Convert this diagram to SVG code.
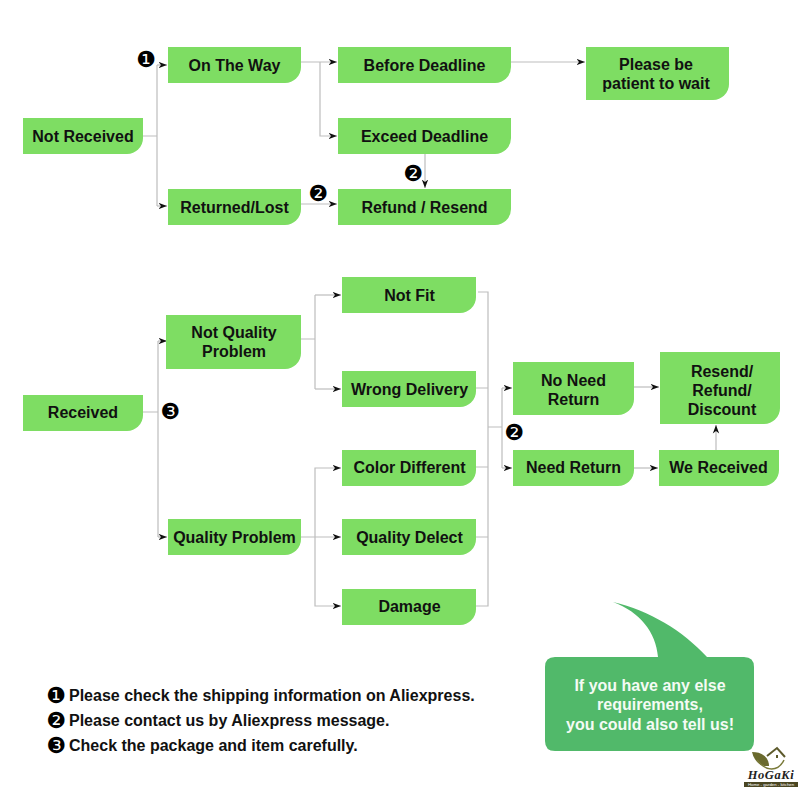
<svg xmlns="http://www.w3.org/2000/svg" width="800" height="800" viewBox="0 0 800 800">
<style>
.b{fill:#7edd63}
.t{font:bold 16px "Liberation Sans",Arial,sans-serif;fill:#111;text-anchor:middle}
.w{font:bold 16px "Liberation Sans",Arial,sans-serif;fill:#f4fbf4;text-anchor:middle}
.n{font:bold 16px "Liberation Sans",Arial,sans-serif;fill:#111}
.d{font:22px "DejaVu Sans",sans-serif;fill:#000;text-anchor:middle}
.c{fill:none;stroke:#bdbdbd;stroke-width:1.2}
.a{marker-end:url(#m)}
</style>
<defs>
<marker id="m" markerUnits="userSpaceOnUse" markerWidth="9" markerHeight="8" refX="8.5" refY="4" orient="auto"><path d="M0 .8L8.5 4L0 7.200L2.500 4Z" fill="#111"/></marker>
</defs>
<rect width="800" height="800" fill="#fff"/>
<g id="connectors">
<path class="c" d="M143 136H157M157 65V206"/>
<path class="c a" d="M157 65H167"/>
<path class="c a" d="M157 206H167"/>
<path class="c a" d="M301 62H337"/>
<path class="c a" d="M320 62V136H337"/>
<path class="c a" d="M511 62H585"/>
<path class="c a" d="M425 154V188"/>
<path class="c a" d="M301 204H337"/>
<path class="c" d="M143 412H158M158 341V537"/>
<path class="c a" d="M158 341H167"/>
<path class="c a" d="M158 537H167"/>
<path class="c" d="M301 339H315M315 295V389"/>
<path class="c a" d="M315 295H341"/>
<path class="c a" d="M315 389H341"/>
<path class="c a" d="M301 537H341"/>
<path class="c a" d="M315 537V468H341"/>
<path class="c a" d="M315 537V606H341"/>
<path class="c" d="M478 292H488V606H476M476 388H488M476 467H488M476 537H488M488 427H502M502 388V468"/>
<path class="c a" d="M502 388H512"/>
<path class="c a" d="M502 468H512"/>
<path class="c a" d="M634 387H659"/>
<path class="c a" d="M634 468H658"/>
<path class="c a" d="M716 450V425"/>
</g>
<g id="not-received"><path class="b" d="M23 118H143V138A16 16 0 0 1 127 154H23Z"/><text class="t" x="83" y="142">Not Received</text></g>
<g id="on-the-way"><path class="b" d="M168 47H301V67A16 16 0 0 1 285 83H168Z"/><text class="t" x="234.500" y="71">On The Way</text></g>
<g id="before-deadline"><path class="b" d="M338 47H511V67A16 16 0 0 1 495 83H338Z"/><text class="t" x="424.500" y="71">Before Deadline</text></g>
<g id="please-wait"><path class="b" d="M586 47H729V84A16 16 0 0 1 713 100H586Z"/><text class="t" x="656" y="70">Please be</text><text class="t" x="656" y="89">patient to wait</text></g>
<g id="exceed-deadline"><path class="b" d="M338 118H511V138A16 16 0 0 1 495 154H338Z"/><text class="t" x="424.500" y="142">Exceed Deadline</text></g>
<g id="returned-lost"><path class="b" d="M168 189H301V209A16 16 0 0 1 285 225H168Z"/><text class="t" x="234.500" y="213">Returned/Lost</text></g>
<g id="refund-resend"><path class="b" d="M338 189H511V209A16 16 0 0 1 495 225H338Z"/><text class="t" x="424.500" y="213">Refund / Resend</text></g>
<g id="received"><path class="b" d="M23 395H143V415A16 16 0 0 1 127 431H23Z"/><text class="t" x="83" y="418">Received</text></g>
<g id="not-quality"><path class="b" d="M166 315H301V353A16 16 0 0 1 285 369H166Z"/><text class="t" x="234" y="338">Not Quality</text><text class="t" x="234" y="357">Problem</text></g>
<g id="quality-problem"><path class="b" d="M168 519H301V539A16 16 0 0 1 285 555H168Z"/><text class="t" x="234.500" y="543">Quality Problem</text></g>
<g id="not-fit"><path class="b" d="M342 277H476V297A16 16 0 0 1 460 313H342Z"/><text class="t" x="409.500" y="301">Not Fit</text></g>
<g id="wrong-delivery"><path class="b" d="M342 371H476V391A16 16 0 0 1 460 407H342Z"/><text class="t" x="409.500" y="395">Wrong Delivery</text></g>
<g id="color-different"><path class="b" d="M342 450H476V470A16 16 0 0 1 460 486H342Z"/><text class="t" x="409.500" y="473">Color Different</text></g>
<g id="quality-delect"><path class="b" d="M342 519H476V539A16 16 0 0 1 460 555H342Z"/><text class="t" x="409.500" y="543">Quality Delect</text></g>
<g id="damage"><path class="b" d="M342 589H476V609A16 16 0 0 1 460 625H342Z"/><text class="t" x="409.500" y="612">Damage</text></g>
<g id="no-need-return"><path class="b" d="M513 362H634V399A16 16 0 0 1 618 415H513Z"/><text class="t" x="573.500" y="386">No Need</text><text class="t" x="573.500" y="405">Return</text></g>
<g id="need-return"><path class="b" d="M513 450H634V470A16 16 0 0 1 618 486H513Z"/><text class="t" x="573.500" y="473">Need Return</text></g>
<g id="resend-refund"><path class="b" d="M660 352H780V408A16 16 0 0 1 764 424H660Z"/><text class="t" x="722" y="377">Resend/</text><text class="t" x="722" y="396">Refund/</text><text class="t" x="722" y="415">Discount</text></g>
<g id="we-received"><path class="b" d="M659 450H779V470A16 16 0 0 1 763 486H659Z"/><text class="t" x="718.500" y="473">We Received</text></g>
<g id="badges">
<text class="d" x="146" y="67">❶</text>
<text class="d" x="318" y="201">❷</text>
<text class="d" x="413" y="181">❷</text>
<text class="d" x="170" y="419">❸</text>
<text class="d" x="514" y="440">❷</text>
</g>
<g id="notes">
<text class="d" x="56" y="703">❶</text><text class="n" x="69" y="701">Please check the shipping information on Aliexpress.</text>
<text class="d" x="56" y="728">❷</text><text class="n" x="69" y="726">Please contact us by Aliexpress message.</text>
<text class="d" x="56" y="753">❸</text><text class="n" x="69" y="751">Check the package and item carefully.</text>
</g>
<g id="bubble">
<path d="M555 657H658C656 632 640 612 613 602C650 611 682 630 707 657H744Q754 657 754 667V741Q754 751 744 751H555Q545 751 545 741V667Q545 657 555 657Z" fill="#51b96a"/>
<text class="w" x="650" y="691">If you have any else</text>
<text class="w" x="650" y="710">requirements,</text>
<text class="w" x="650" y="730">you could also tell us!</text>
</g>
<g id="logo">
<path d="M752 752C762 752 769 757 769 766C760 767 754 761 752 752Z" fill="#6a6a2e"/>
<path d="M767 756L777 748L785 757" fill="none" stroke="#5d5a2c" stroke-width="2"/>
<path d="M757 760C766 772 778 772 784 760" fill="none" stroke="#7a7a3a" stroke-width="1.500"/>
<rect x="776" y="755" width="2" height="3" fill="#5d5a2c"/>
<text x="771" y="779" text-anchor="middle" style="font:italic bold 12.500px 'Liberation Serif',serif;letter-spacing:.6px" fill="#222">HoGaKi</text>
<rect x="744" y="782" width="54" height="5" fill="#4a4622"/>
<text x="771" y="786" text-anchor="middle" style="font:4.300px 'Liberation Sans',sans-serif" fill="#fff">Home - garden - kitchen</text>
</g>
</svg>
